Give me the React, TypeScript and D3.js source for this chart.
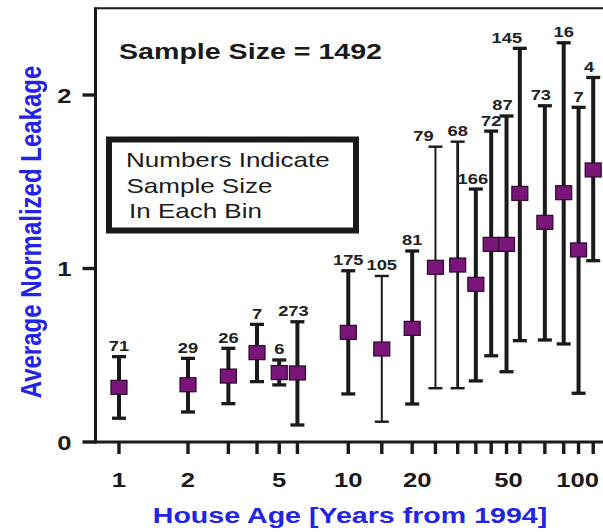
import React from "react";
import * as d3 from "d3";

// House age bins (years from 1994), log-scaled on the x axis
const houseAge = [1, 2, 3, 4, 5, 6, 10, 14, 19, 24, 30, 36, 42, 49, 56, 72, 87, 101, 117];
// Average normalized leakage per bin
const meanLeakage = [0.315, 0.33, 0.38, 0.515, 0.40, 0.398, 0.632, 0.536, 0.655, 1.007, 1.02, 0.909, 1.139, 1.139, 1.433, 1.266, 1.437, 1.107, 1.568];
// Upper and lower ends of each error bar
const upperLeakage = [0.492, 0.482, 0.54, 0.678, 0.473, 0.693, 0.987, 0.957, 1.101, 1.702, 1.731, 1.458, 1.792, 1.879, 2.269, 1.938, 2.301, 1.929, 2.101];
const lowerLeakage = [0.137, 0.173, 0.221, 0.348, 0.329, 0.098, 0.277, 0.117, 0.219, 0.31, 0.31, 0.352, 0.497, 0.405, 0.584, 0.588, 0.565, 0.281, 1.045];
// Number of houses in each bin
const binCount = [71, 29, 26, 7, 6, 273, 175, 105, 81, 79, 68, 166, 72, 87, 145, 73, 16, 7, 4];

const xTickLabels = [1, 2, 5, 10, 20, 50, 100];
const yTickValues = [0, 1, 2];

const totalSample = 1492;

// Layout
const W = 603;
const H = 532;
const INK = "#1a1a1a";
const BLUE = "#2323e6";
const PURPLE = "#7a1579";

// Horizontal nudges for crowded count labels, keyed by bin count
const labelNudge: Record<number, number> = { 145: -13, 79: -12, 273: -4, 87: -4, 73: -4, 4: -4, 166: -3 };
// Bins drawn with lighter whiskers
const lightWhisker: Record<number, number> = { 105: 2, 79: 2, 68: 2.8 };

type TProps = {
  x: number;
  y: number;
  anchor?: "start" | "middle" | "end";
  size: number;
  sx?: number;
  weight?: string | number;
  fill?: string;
  rotate?: number;
  children: React.ReactNode;
};

// Text drawn with widened lettering
function WideText({ x, y, anchor = "start", size, sx = 1.22, weight = "bold", fill = INK, rotate = 0, children }: TProps) {
  return (
    <text
      transform={`translate(${x},${y}) scale(${sx},1)${rotate ? ` rotate(${rotate})` : ""}`}
      textAnchor={anchor}
      fontFamily="'Liberation Sans', Arial, Helvetica, sans-serif"
      fontSize={size}
      fontWeight={weight}
      fill={fill}
    >
      {children}
    </text>
  );
}

export default function App() {
  const x = d3.scaleLog().domain([0.79, 130]).range([95.5, 603.7]);
  const y = d3.scaleLinear().domain([0, 2.5]).range([442, 8.25]);

  const points = houseAge.map((a, i) => ({
    age: a,
    mean: meanLeakage[i],
    hi: upperLeakage[i],
    lo: lowerLeakage[i],
    n: binCount[i],
  }));

  const left = x.range()[0];
  const right = W;
  const bottom = y(0);
  const top = y(2.5);

  const markW = 16;
  const markH = 14;
  const capW = 14;

  return (
    <svg
      width={W}
      height={H}
      viewBox={`0 0 ${W} ${H}`}
      style={{ position: "absolute", left: 0, top: 0, background: "#fff" }}
    >
      <rect x={0} y={0} width={W} height={H} fill="#fff" />

      {/* frame */}
      <line x1={left} x2={right} y1={top} y2={top} stroke={INK} strokeWidth={2.2} />
      <line x1={left} x2={left} y1={top - 1} y2={bottom + 1.5} stroke={INK} strokeWidth={3} />
      <line x1={left - 1.5} x2={right} y1={bottom} y2={bottom} stroke={INK} strokeWidth={3.2} />

      {/* y ticks */}
      {yTickValues.map((v) => (
        <g key={`yt${v}`}>
          <line x1={left - 13} x2={left} y1={y(v)} y2={y(v)} stroke={INK} strokeWidth={3.4} />
          <WideText x={71.5} y={y(v) + 7.5} anchor="end" size={21}>
            {v}
          </WideText>
        </g>
      ))}

      {/* x ticks at every bin */}
      {houseAge.map((a) => (
        <line key={`xt${a}`} x1={x(a)} x2={x(a)} y1={bottom} y2={bottom + 12} stroke={INK} strokeWidth={3.4} />
      ))}
      {xTickLabels.map((v) => (
        <WideText key={`xl${v}`} x={x(v)} y={487} anchor="middle" size={21}>
          {v}
        </WideText>
      ))}

      {/* axis titles */}
      <WideText x={350} y={523} anchor="middle" size={22} sx={1.3} fill={BLUE}>
        House Age [Years from 1994]
      </WideText>
      <WideText x={41} y={232} anchor="middle" size={24} fill={BLUE} rotate={-90}>
        Average Normalized Leakage
      </WideText>

      {/* sample size note */}
      <WideText x={119} y={59} size={22} sx={1.3}>
        {`Sample Size = ${totalSample}`}
      </WideText>

      {/* legend box */}
      <rect x={109} y={139.5} width={247} height={91} fill="#fff" stroke={INK} strokeWidth={6} />
      <WideText x={126} y={167} size={20} sx={1.3} weight="normal">
        Numbers Indicate
      </WideText>
      <WideText x={126.5} y={193} size={20} sx={1.3} weight="normal">
        Sample Size
      </WideText>
      <WideText x={129} y={218} size={20} sx={1.3} weight="normal">
        In Each Bin
      </WideText>

      {/* error bars, markers and counts */}
      {points.map((p) => {
        const cx = x(p.age);
        const sw = lightWhisker[p.n] ?? 4;
        const capSw = sw < 3 ? 2.4 : 3.3;
        return (
          <g key={`pt${p.age}`}>
            <line x1={cx} x2={cx} y1={y(p.hi)} y2={y(p.lo)} stroke={INK} strokeWidth={sw} />
            <line x1={cx - capW / 2} x2={cx + capW / 2} y1={y(p.hi)} y2={y(p.hi)} stroke={INK} strokeWidth={capSw} />
            <line x1={cx - capW / 2} x2={cx + capW / 2} y1={y(p.lo)} y2={y(p.lo)} stroke={INK} strokeWidth={capSw} />
            <rect
              x={cx - markW / 2}
              y={y(p.mean) - markH / 2}
              width={markW}
              height={markH}
              fill={PURPLE}
              stroke="#2a0a2a"
              strokeWidth={1.2}
            />
            <WideText x={cx + (labelNudge[p.n] ?? 0)} y={y(p.hi) - 5.5} anchor="middle" size={15} fill="#222">
              {p.n}
            </WideText>
          </g>
        );
      })}
    </svg>
  );
}
